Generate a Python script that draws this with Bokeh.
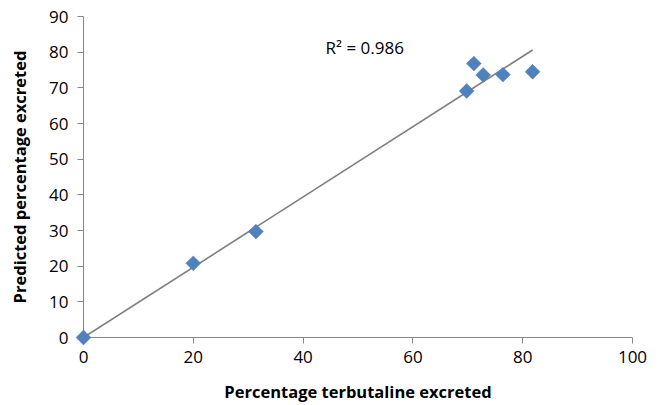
import numpy as np
from bokeh.plotting import figure
from bokeh.models import Range1d, FixedTicker, ColumnDataSource
from bokeh.embed import file_html
from bokeh.resources import INLINE
from bokeh.core.properties import value

# Data
actual = [0, 20.0, 31.4, 69.8, 71.1, 72.8, 76.4, 81.8]
predicted = [0, 20.8, 29.7, 69.1, 76.8, 73.6, 73.7, 74.5]
x_ticks = [0, 20, 40, 60, 80, 100]
y_ticks = [0, 10, 20, 30, 40, 50, 60, 70, 80, 90]
r2_label = ["R\u00b2 = 0.986"]
r2_pos_x = [44.1]
r2_pos_y = [81.4]

FONT = "Open Sans"

# linear trendline through origin (least squares)
ax = np.array(actual)
ay = np.array(predicted)
slope = float((ax * ay).sum() / (ax * ax).sum())
trend_x = [0.0, float(ax.max())]
trend_y = [slope * v for v in trend_x]

p = figure(width=661, height=405,
           x_range=Range1d(0, 100), y_range=Range1d(0, 90),
           output_backend="svg", toolbar_location=None,
           min_border_left=83, min_border_right=29,
           min_border_top=16, min_border_bottom=67)

p.outline_line_color = None
p.xgrid.visible = False
p.ygrid.visible = False
p.background_fill_color = "white"
p.border_fill_color = "white"

p.line(trend_x, trend_y, line_color="#7f7f7f", line_width=1.6)

src = ColumnDataSource(dict(x=actual, y=predicted))
r = p.scatter("x", "y", source=src, marker="square", angle=np.pi / 4, size=10.5,
              fill_color="#4F81BD", line_color="#4F81BD", line_width=0.5)
r.level = "overlay"

p.text(x=r2_pos_x, y=r2_pos_y, text=r2_label, text_font=value(FONT),
       text_font_size="17px", text_baseline="middle", text_align="left",
       text_color="black")

for axis, ticks in ((p.xaxis[0], x_ticks), (p.yaxis[0], y_ticks)):
    axis.ticker = FixedTicker(ticks=ticks)
    axis.axis_line_color = "#868686"
    axis.major_tick_line_color = "#868686"
    axis.major_tick_out = 6
    axis.major_tick_in = 0
    axis.minor_tick_line_color = None
    axis.major_label_text_font = FONT
    axis.major_label_text_font_size = "17px"
    axis.major_label_text_color = "black"
    axis.axis_label_text_font = FONT
    axis.axis_label_text_font_size = "16.5px"
    axis.axis_label_text_font_style = "bold"
    axis.axis_label_text_color = "black"

p.xaxis.axis_label = "Percentage terbutaline excreted"
p.yaxis.axis_label = "Predicted percentage excreted"
p.xaxis.major_label_standoff = 7
p.yaxis.major_label_standoff = 9
p.xaxis.axis_label_standoff = 14
p.yaxis.axis_label_standoff = 15

open("out.html", "w").write(file_html(p, INLINE))
